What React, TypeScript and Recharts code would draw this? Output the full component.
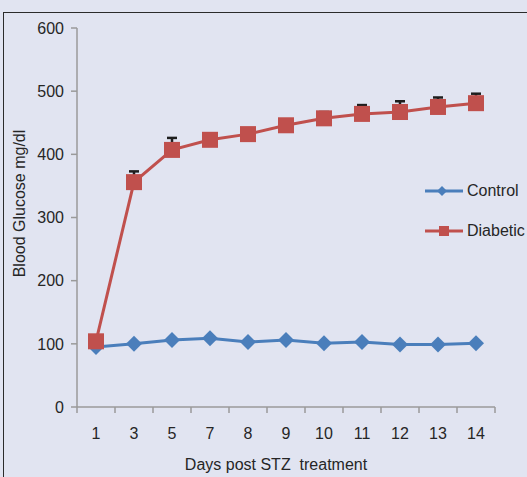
import React from 'react';
import { LineChart, Line, XAxis, YAxis, ErrorBar, Legend } from 'recharts';

// Blood glucose over days after STZ injection
const days = ['1', '3', '5', '7', '8', '9', '10', '11', '12', '13', '14'];
const controlGlucose = [95, 100, 106, 109, 103, 106, 101, 103, 99, 99, 101];
const diabeticGlucose = [104, 356, 407, 423, 432, 446, 457, 464, 467, 475, 481];
const diabeticSem = [5, 17, 19, 10, 8, 8, 10, 14, 17, 15, 15];
const glucoseTicks = [0, 100, 200, 300, 400, 500, 600];

const BLUE = '#4a7ebb';
const RED = '#c0504d';
const AXIS = '#9a9a9a';
const TEXT = '#262626';
const FONT = '"Liberation Sans", Arial, sans-serif';
const FS = 16;

const data = days.map((day, i) => ({
  day,
  control: controlGlucose[i],
  diabetic: diabeticGlucose[i],
  diabeticErr: [0, diabeticSem[i]],
}));

const DiamondDot = (props: any) => {
  const { cx, cy } = props;
  if (cx == null || cy == null) return null;
  const r = 8;
  return (
    <polygon
      points={`${cx},${cy - r} ${cx + r},${cy} ${cx},${cy + r} ${cx - r},${cy}`}
      fill={BLUE}
    />
  );
};

const SquareDot = (props: any) => {
  const { cx, cy } = props;
  if (cx == null || cy == null) return null;
  return <rect x={cx - 8} y={cy - 8} width={16} height={16} fill={RED} />;
};

// Category labels sit in the band centre, tick marks on band edges
const DayTick = (props: any) => {
  const { x, y, payload, index, visibleTicksCount } = props;
  const half = payload && payload.offset ? payload.offset : 19;
  const axisY = y - 21;
  return (
    <g>
      <line x1={x - half} y1={axisY} x2={x - half} y2={axisY + 6} stroke={AXIS} strokeWidth={1.5} />
      {index === visibleTicksCount - 1 && (
        <line x1={x + half} y1={axisY} x2={x + half} y2={axisY + 6} stroke={AXIS} strokeWidth={1.5} />
      )}
      <text x={x} y={y} dy="0.71em" textAnchor="middle" fontSize={FS} fill={TEXT} fontFamily={FONT}>
        {payload.value}
      </text>
    </g>
  );
};

const LegendContent = () => {
  const rows = [
    { name: 'Control', color: BLUE, shape: 'diamond' },
    { name: 'Diabetic', color: RED, shape: 'square' },
  ];
  return (
    <div style={{ fontFamily: FONT, fontSize: FS, color: TEXT }}>
      {rows.map((r) => (
        <div key={r.name} style={{ display: 'flex', alignItems: 'center', height: 40 }}>
          <svg width={38} height={16} style={{ display: 'block' }}>
            <line x1={0} y1={8} x2={38} y2={8} stroke={r.color} strokeWidth={3} />
            {r.shape === 'diamond' ? (
              <polygon points="17,3 22,8 17,13 12,8" fill={r.color} />
            ) : (
              <rect x={14} y={3} width={10} height={10} fill={r.color} />
            )}
          </svg>
          <span style={{ marginLeft: 4 }}>{r.name}</span>
        </div>
      ))}
    </div>
  );
};

export default function App() {
  return (
    <div
      style={{
        position: 'absolute',
        left: 0,
        top: 0,
        width: 527,
        height: 477,
        background: '#e1e4f1',
        overflow: 'hidden',
      }}
    >
      <div
        style={{
          position: 'absolute',
          left: 3,
          top: 12,
          width: 700,
          height: 700,
          borderLeft: '1.5px solid #2b2b2b',
          borderTop: '1.5px solid #2b2b2b',
        }}
      />
      <div style={{ position: 'absolute', left: 0, top: 0 }}>
        <LineChart
          width={527}
          height={477}
          data={data}
          margin={{ top: 28, right: 32, bottom: 0, left: 0 }}
        >
          <XAxis
            dataKey="day"
            scale="band"
            height={70}
            stroke={AXIS}
            strokeWidth={1.5}
            tickLine={false}
            tickSize={6}
            tickMargin={15}
            interval={0}
            tick={<DayTick />}
            label={{
              content: (p: any) => {
                const vb = p.viewBox || {};
                return (
                  <text
                    x={(vb.x ?? 77) + (vb.width ?? 418) / 2 - 10}
                    y={464}
                    dy="0.35em"
                    textAnchor="middle"
                    fontSize={FS}
                    fill={TEXT}
                    fontFamily={FONT}
                    style={{ whiteSpace: 'pre' }}
                  >
                    {'Days post STZ  treatment'}
                  </text>
                );
              },
            }}
          />
          <YAxis
            width={77}
            domain={[0, 600]}
            ticks={glucoseTicks}
            interval={0}
            stroke={AXIS}
            strokeWidth={1.5}
            tickSize={6}
            tickMargin={7}
            tick={{ fontSize: FS, fill: TEXT, fontFamily: FONT }}
            label={{
              content: (p: any) => {
                const vb = p.viewBox || {};
                const cx = (vb.x ?? 0) + 19;
                const cy = (vb.y ?? 28) + (vb.height ?? 379) / 2 - 14;
                return (
                  <text
                    x={cx}
                    y={cy}
                    dy="0.35em"
                    textAnchor="middle"
                    transform={`rotate(-90 ${cx} ${cy})`}
                    fontSize={FS}
                    fill={TEXT}
                    fontFamily={FONT}
                  >
                    Blood Glucose mg/dl
                  </text>
                );
              },
            }}
          />
          <Legend
            layout="vertical"
            align="center"
            verticalAlign="middle"
            content={<LegendContent />}
            wrapperStyle={{ left: 425, top: 171, width: 110 }}
          />
          <Line
            dataKey="control"
            name="Control"
            stroke={BLUE}
            strokeWidth={3}
            dot={<DiamondDot />}
            activeDot={false}
            isAnimationActive={false}
          />
          <Line
            dataKey="diabetic"
            name="Diabetic"
            stroke={RED}
            strokeWidth={3}
            dot={<SquareDot />}
            activeDot={false}
            isAnimationActive={false}
          >
            <ErrorBar
              dataKey="diabeticErr"
              direction="y"
              width={5}
              stroke="#1e1e1e"
              strokeWidth={2.5}
              isAnimationActive={false}
            />
          </Line>
        </LineChart>
      </div>
    </div>
  );
}
